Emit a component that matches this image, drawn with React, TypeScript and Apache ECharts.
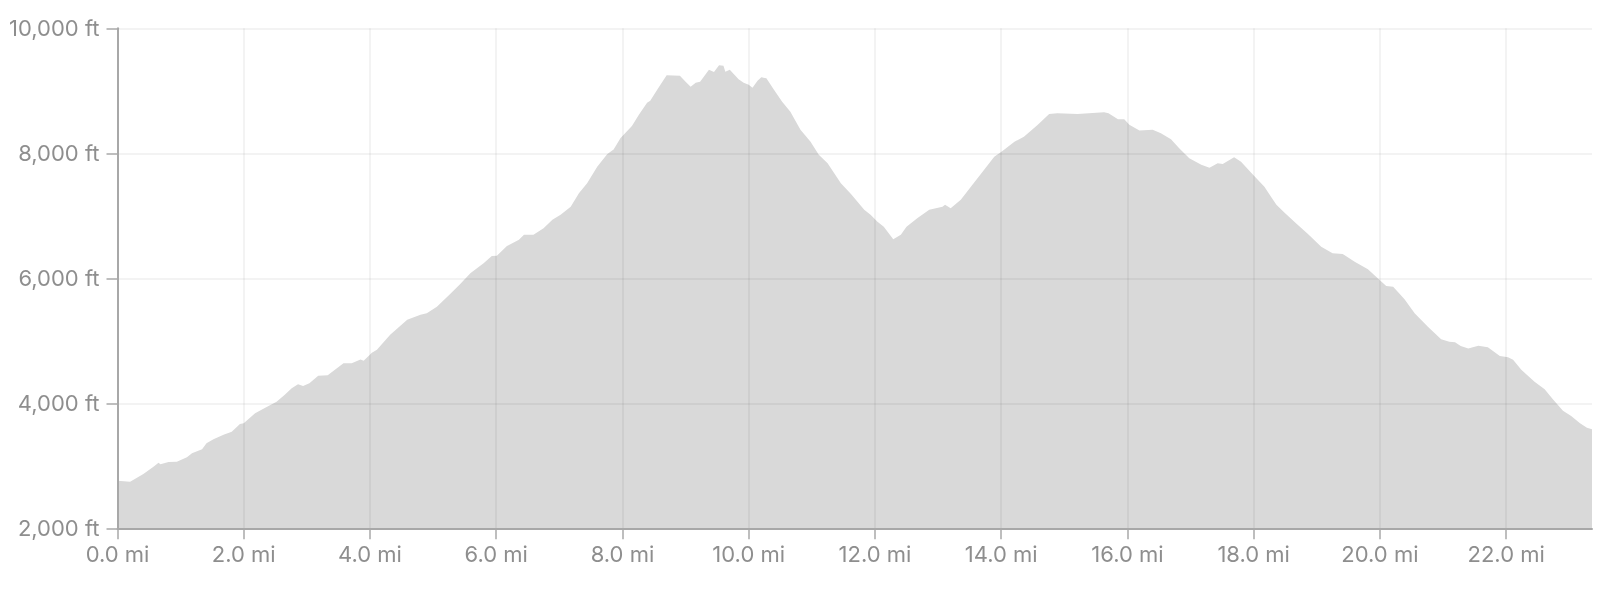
import React, { useEffect, useRef } from "react";
import * as echarts from "echarts";

// Distance along trail (miles)
const distances: number[] = [
  0.0, 0.2, 0.41, 0.57, 0.65, 0.68, 0.81, 0.94, 1.1, 1.18, 1.34, 1.41, 1.52, 1.68, 1.81, 1.94,
  2.0, 2.18, 2.37, 2.52, 2.65, 2.76, 2.86, 2.94, 3.04, 3.18, 3.33, 3.58, 3.71, 3.85, 3.9,
  4.03, 4.11, 4.32, 4.59, 4.8, 4.9, 5.06, 5.27, 5.43, 5.59, 5.8, 5.93, 6.01, 6.17, 6.36,
  6.44, 6.59, 6.75, 6.89, 7.02, 7.18, 7.31, 7.44, 7.6, 7.76, 7.86, 7.97, 8.15, 8.26, 8.39,
  8.44, 8.55, 8.7, 8.91, 9.0, 9.08, 9.16, 9.23, 9.37, 9.45, 9.53, 9.6, 9.63, 9.7, 9.84,
  9.92, 10.0, 10.06, 10.14, 10.2, 10.28, 10.4, 10.53, 10.66, 10.82, 10.98, 11.11, 11.25,
  11.46, 11.62, 11.83, 11.93, 12.04, 12.14, 12.29, 12.41, 12.5, 12.67, 12.86, 13.07, 13.11,
  13.2, 13.36, 13.52, 13.73, 13.89, 14.02, 14.21, 14.36, 14.58, 14.76, 14.89, 15.21, 15.63,
  15.7, 15.85, 15.95, 16.03, 16.19, 16.4, 16.53, 16.69, 16.82, 16.98, 17.17, 17.3, 17.43,
  17.51, 17.69, 17.8, 17.99, 18.17, 18.36, 18.49, 18.67, 18.86, 19.07, 19.25, 19.41, 19.6,
  19.81, 20.0, 20.1, 20.21, 20.39, 20.55, 20.76, 20.97, 21.1, 21.19, 21.28, 21.4, 21.56,
  21.71, 21.9, 22.03, 22.11, 22.24, 22.45, 22.61, 22.74, 22.9, 23.03, 23.17, 23.28, 23.36,
];

// Elevation (feet)
const elevations: number[] = [
  2760, 2745, 2870, 2985, 3050, 3025, 3060, 3065, 3135, 3200, 3265, 3360, 3425, 3495, 3545, 3670,
  3680, 3840, 3945, 4025, 4135, 4240, 4305, 4275, 4320, 4440, 4450, 4640, 4640, 4700, 4680,
  4810, 4855, 5095, 5335, 5415, 5440, 5545, 5750, 5910, 6080, 6240, 6355, 6360, 6515, 6615,
  6695, 6695, 6800, 6935, 7015, 7145, 7360, 7520, 7785, 7990, 8060, 8245, 8435, 8615, 8810,
  8840, 9015, 9250, 9240, 9145, 9065, 9130, 9145, 9335, 9300, 9410, 9400, 9305, 9335, 9185,
  9130, 9095, 9050, 9160, 9215, 9200, 9015, 8825, 8665, 8375, 8185, 7975, 7840,
  7520, 7350, 7095, 7015, 6905, 6825, 6625, 6695, 6825, 6960, 7095, 7145, 7175,
  7120, 7255, 7465, 7735, 7945, 8035, 8185, 8265, 8455, 8630, 8640, 8630, 8655,
  8640, 8545, 8545, 8455, 8365, 8375, 8320, 8225, 8080, 7920, 7815, 7770, 7840,
  7830, 7935, 7865, 7655, 7465, 7175, 7050, 6880, 6710, 6505, 6400, 6390, 6265,
  6145, 5970, 5875, 5865, 5665, 5440, 5225, 5025, 4985, 4975, 4915, 4875, 4920,
  4895, 4755, 4735, 4695, 4535, 4345, 4225, 4065, 3880, 3795, 3680, 3610, 3585,
];

const yMin = 2000;
const yMax = 10000;
const yStep = 2000;
const xStep = 2;

export default function App() {
  const ref = useRef<HTMLDivElement>(null);

  useEffect(() => {
    if (!ref.current) return;
    const chart = echarts.init(ref.current, undefined, { renderer: "svg" });
    const xEnd = distances[distances.length - 1];
    const points = distances.map((d, i) => [d, elevations[i]]);
    const labelColor = "#8e8e8e";
    const axisColor = "#a8a8a8";
    const gridColor = "rgba(0,0,0,0.065)";
    const font = "Inter, 'Noto Sans', sans-serif";

    chart.setOption({
      animation: false,
      grid: {
        left: 117.5,
        right: 27,
        top: 28.3,
        bottom: 85.7,
        containLabel: false,
        outerBoundsMode: "none",
      },
      xAxis: {
        type: "value",
        min: 0,
        max: xEnd,
        interval: xStep,
        z: 3,
        axisLine: { show: true, lineStyle: { color: axisColor, width: 2 } },
        axisTick: {
          show: true,
          length: 11,
          interval: (_i: number, v: any) => {
            const n = typeof v === "number" ? v : Number(v);
            return n === 0 || Math.abs(n - xEnd) < 1e-6;
          },
          lineStyle: { color: axisColor, width: 1.5 },
        },
        splitLine: {
          show: true,
          showMinLine: false,
          showMaxLine: false,
          lineStyle: { color: gridColor, width: 1.5 },
        },
        axisLabel: {
          show: true,
          showMaxLabel: false,
          margin: 15,
          color: labelColor,
          fontSize: 22,
          fontFamily: font,
          formatter: (v: number) => v.toFixed(1) + " mi",
        },
      },
      yAxis: {
        type: "value",
        min: yMin,
        max: yMax,
        interval: yStep,
        z: 3,
        axisLine: { show: true, lineStyle: { color: axisColor, width: 2 } },
        axisTick: {
          show: true,
          length: 11,
          interval: (_i: number, v: any) => {
            const n = typeof v === "number" ? v : Number(v);
            return n === yMin || n === yMax;
          },
          lineStyle: { color: axisColor, width: 1.5 },
        },
        splitLine: {
          show: true,
          showMinLine: false,
          lineStyle: { color: gridColor, width: 1.5 },
        },
        axisLabel: {
          show: true,
          margin: 18,
          color: labelColor,
          fontSize: 22,
          fontFamily: font,
          formatter: (v: number) => v.toLocaleString("en-US") + " ft",
        },
      },
      series: [
        {
          type: "line",
          data: points,
          showSymbol: false,
          symbol: "none",
          lineStyle: { width: 0, opacity: 0 },
          areaStyle: { color: "#d9d9d9", opacity: 1, origin: "start" },
          z: 2,
        },
      ],
    });

    return () => chart.dispose();
  }, []);

  return (
    <div
      ref={ref}
      style={{ position: "fixed", left: 0, top: 0, width: 1619, height: 614 }}
    />
  );
}
